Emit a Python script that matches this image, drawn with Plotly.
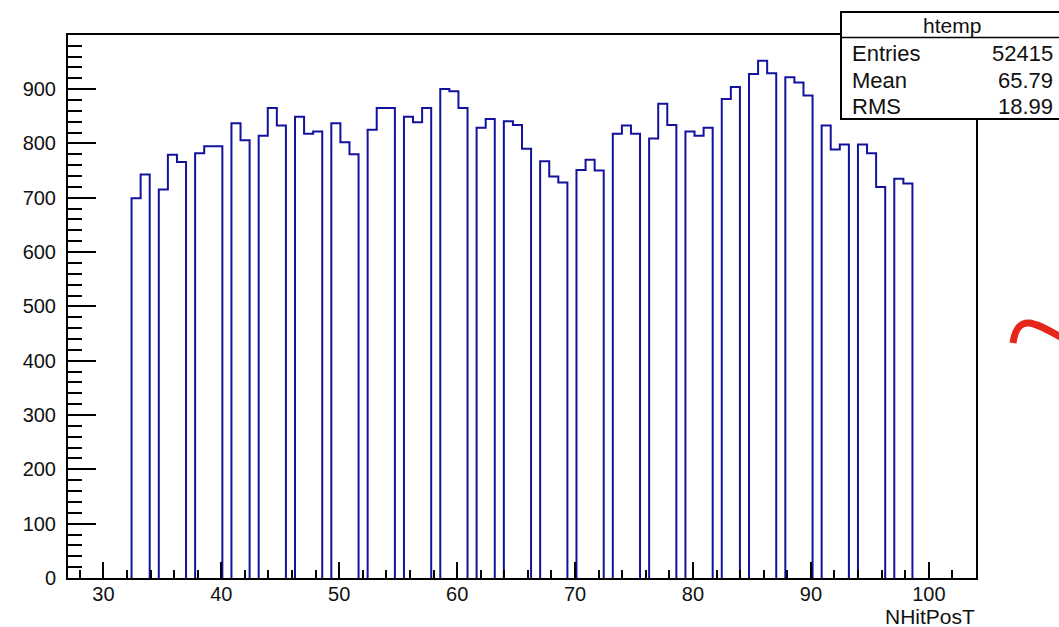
import plotly.graph_objects as go

# ---- data ----
hist_name = "htemp"
x_title = "NHitPosT"
bin_low = 27.0
bin_width = 0.77
counts = [
    0, 0, 0, 0, 0, 0, 0, 699, 743, 0,
    715, 779, 766, 0, 782, 795, 795, 0, 837, 806,
    0, 814, 865, 833, 0, 849, 818, 822, 0, 837,
    802, 780, 0, 825, 865, 865, 0, 849, 839, 865,
    0, 900, 896, 865, 0, 829, 845, 0, 841, 834,
    790, 0, 767, 739, 728, 0, 751, 770, 750, 0,
    818, 833, 818, 0, 809, 873, 834, 0, 822, 814,
    829, 0, 882, 904, 0, 928, 952, 929, 0, 922,
    912, 888, 0, 833, 789, 798, 0, 798, 782, 720,
    0, 735, 726, 0, 0, 0, 0, 0, 0, 0,
]
stat_labels = ["Entries", "Mean", "RMS"]
stat_values = ["52415", "65.79", "18.99"]
x_range = [27, 104]
y_range = [0, 999.6]

# ---- build outline (ROOT-style histogram) ----
edges = [bin_low + i * bin_width for i in range(len(counts) + 1)]
xs, ys = [], []
i = 0
n = len(counts)
while i < n:
    if counts[i] > 0:
        j = i
        while j < n and counts[j] > 0:
            j += 1
        xs.append(edges[i]); ys.append(0)
        xs.append(edges[i]); ys.append(counts[i])
        for k in range(i + 1, j):
            xs.append(edges[k]); ys.append(counts[k])
        xs.append(edges[j]); ys.append(counts[j - 1])
        xs.append(edges[j]); ys.append(0)
        xs.append(None); ys.append(None)
        i = j
    else:
        i += 1

W, H = 1059, 627
L, R, T, B = 68, 83, 35, 49
pw, ph = W - L - R, H - T - B

def px(x):
    return (x - L) / pw

def py(y):
    return (H - B - y) / ph

FONT = "Liberation Sans, Arial, sans-serif"

fig = go.Figure()
fig.add_trace(go.Scatter(
    x=xs, y=ys, mode="lines", line=dict(color="#12129c", width=2, shape="hv"),
    hoverinfo="skip", showlegend=False, connectgaps=False,
))

axis_common = dict(
    showgrid=False, zeroline=False, showline=True, mirror=True,
    linecolor="black", linewidth=2, ticks="inside", tickcolor="black",
    tickwidth=2, layer="above traces",
    tickfont=dict(family=FONT, size=20, color="#111111"),
)

fig.update_xaxes(
    range=x_range, dtick=10, tick0=0, ticklen=16, ticklabelstandoff=-3,
    minor=dict(ticks="inside", ticklen=8, dtick=2, tick0=0, tickcolor="black", tickwidth=2),
    **axis_common,
)
fig.update_yaxes(
    range=y_range, dtick=100, tick0=0, ticklen=28, ticklabelstandoff=6,
    minor=dict(ticks="inside", ticklen=14, dtick=20, tick0=0, tickcolor="black", tickwidth=2),
    **axis_common,
)

shapes = []
shapes.append(dict(type="rect", xref="paper", yref="paper",
                   x0=px(841), x1=px(1070), y0=py(119), y1=py(12),
                   fillcolor="white", line=dict(color="black", width=2), layer="above"))
shapes.append(dict(type="line", xref="paper", yref="paper",
                   x0=px(841), x1=px(1070), y0=py(37.5), y1=py(37.5),
                   line=dict(color="black", width=1.5), layer="above"))
def pp(x, y):
    return f"{px(x):.5f},{py(y):.5f}"
path = ("M " + pp(1013, 343) + " C " + pp(1015, 329) + " " + pp(1020, 322) + " " + pp(1030, 323)
        + " C " + pp(1040, 325) + " " + pp(1050, 331) + " " + pp(1064, 339))
shapes.append(dict(type="path", xref="paper", yref="paper", path=path,
                   line=dict(color="#e4261b", width=7), layer="above"))

annotations = []
annotations.append(dict(text=hist_name, xref="paper", yref="paper", x=px(952), y=py(25),
                        xanchor="center", yanchor="middle", showarrow=False,
                        font=dict(family=FONT, size=21, color="#111111")))
row_y = [53, 80, 106]
for lab, val, yy in zip(stat_labels, stat_values, row_y):
    annotations.append(dict(text=lab, xref="paper", yref="paper", x=px(850), y=py(yy),
                            xanchor="left", yanchor="middle", showarrow=False,
                            font=dict(family=FONT, size=22, color="#111111")))
    annotations.append(dict(text=val, xref="paper", yref="paper", x=px(1055), y=py(yy),
                            xanchor="right", yanchor="middle", showarrow=False,
                            font=dict(family=FONT, size=22, color="#111111")))
annotations.append(dict(text=x_title, xref="paper", yref="paper", x=px(977), y=py(616),
                        xanchor="right", yanchor="middle", showarrow=False,
                        font=dict(family=FONT, size=21, color="#111111")))

fig.update_layout(
    width=W, height=H, margin=dict(l=L, r=R, t=T, b=B, pad=0),
    paper_bgcolor="white", plot_bgcolor="white",
    shapes=shapes, annotations=annotations, showlegend=False,
)

fig.write_html(
    "out.html",
    config={"displayModeBar": False},
    post_script="document.body.style.margin='0';document.body.style.overflow='hidden';",
)
